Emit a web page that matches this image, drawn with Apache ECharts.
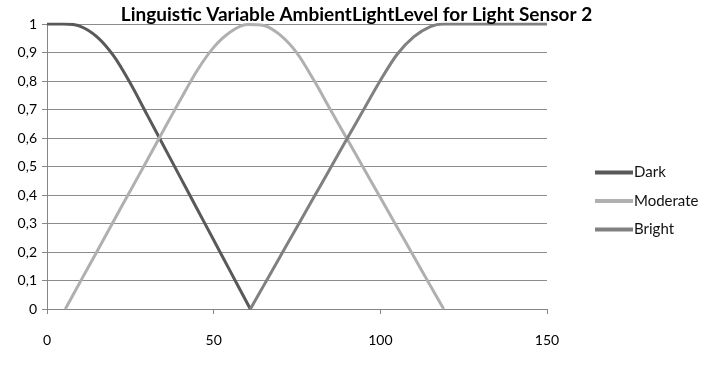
<!DOCTYPE html>
<html>
<head>
<meta charset="utf-8">
<script src="https://cdn.jsdelivr.net/npm/echarts@6/dist/echarts.min.js"></script>
<style>
  html, body { margin: 0; padding: 0; background: #fff; }
  #chart { width: 713px; height: 372px; }
</style>
</head>
<body>
<div id="chart"></div>
<script>
// membership curves as [x, y] points
const darkX = [0, 5, 10, 15, 20, 25, 30, 35, 40, 45, 50, 55, 61];
const darkY = [1, 1, 0.992, 0.955, 0.888, 0.792, 0.682, 0.572, 0.462, 0.352, 0.242, 0.132, 0];

const moderateX = [5.5, 10, 15, 20, 25, 30, 35, 40, 45, 50, 55, 60, 65, 70, 75, 80, 85, 90, 95, 100, 105, 110, 115, 119];
const moderateY = [0, 0.096, 0.202, 0.309, 0.415, 0.521, 0.628, 0.734, 0.836, 0.918, 0.972, 0.998, 0.995, 0.961, 0.898, 0.804, 0.7, 0.597, 0.494, 0.391, 0.288, 0.185, 0.082, 0];

const brightX = [61, 65, 70, 75, 80, 85, 90, 95, 100, 105, 110, 115, 119, 130, 150];
const brightY = [0, 0.082, 0.185, 0.288, 0.391, 0.494, 0.597, 0.7, 0.802, 0.893, 0.955, 0.991, 1, 1, 1];

const seriesNames = ["Dark", "Moderate", "Bright"];
const seriesColors = ["#595959", "#b0b0b0", "#808080"];

function pairs(xs, ys) {
  return xs.map((x, i) => [x, ys[i]]);
}

const chart = echarts.init(document.getElementById("chart"), null, { renderer: "canvas" });

const font = "Lato, 'Open Sans', sans-serif";

chart.setOption({
  animation: false,
  title: {
    text: "Linguistic Variable AmbientLightLevel for Light Sensor 2",
    left: "center",
    top: 0,
    textStyle: { fontFamily: font, fontSize: 19, fontWeight: "bold", color: "#000" },
  },
  legend: {
    orient: "vertical",
    left: 590,
    top: 160,
    icon: "rect",
    itemWidth: 38,
    itemHeight: 4,
    itemGap: 13.5,
    data: seriesNames,
    textStyle: { fontFamily: font, fontSize: 15, lineHeight: 15, color: "#111", padding: [0, 0, 0, -4] },
  },
  grid: { left: 47, right: 166, top: 24, bottom: 63 },
  xAxis: {
    type: "value",
    min: 0,
    max: 150,
    interval: 50,
    axisLine: { lineStyle: { color: "#868686", width: 1 } },
    axisTick: { show: true, length: 5, lineStyle: { color: "#868686" } },
    axisLabel: { margin: 24, fontFamily: font, fontSize: 14, color: "#000" },
    splitLine: { show: false },
  },
  yAxis: {
    type: "value",
    min: 0,
    max: 1,
    interval: 0.1,
    axisLine: { show: true, lineStyle: { color: "#868686", width: 1 } },
    axisTick: { show: true, length: 5, lineStyle: { color: "#868686" } },
    axisLabel: {
      margin: 10,
      fontFamily: font,
      fontSize: 14,
      color: "#000",
      formatter: (v) => String(Math.round(v * 10) / 10).replace(".", ","),
    },
    splitLine: { lineStyle: { color: "#8c8c8c", width: 1 } },
  },
  series: [
    pairs(darkX, darkY),
    pairs(moderateX, moderateY),
    pairs(brightX, brightY),
  ].map((data, i) => ({
    name: seriesNames[i],
    type: "line",
    data: data,
    smooth: 0.3,
    symbol: "none",
    color: seriesColors[i],
    lineStyle: { width: 3, color: seriesColors[i] },
  })),
});
</script>
</body>
</html>
